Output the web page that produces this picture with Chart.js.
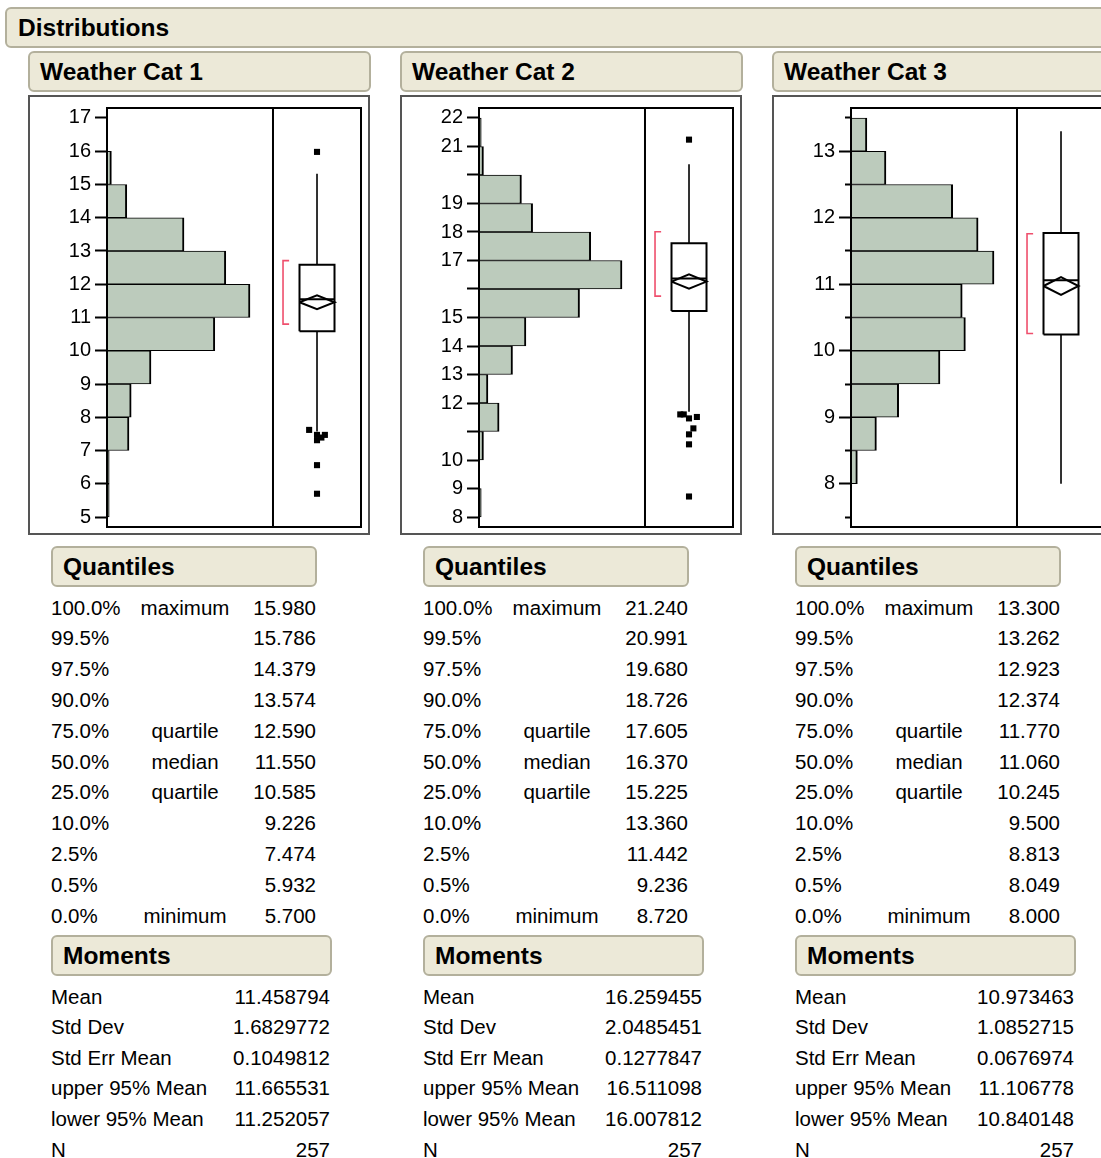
<!DOCTYPE html>
<html><head><meta charset="utf-8">
<script src="https://cdn.jsdelivr.net/npm/chart.js@4.4.1/dist/chart.umd.min.js"></script>
<style>
html,body{margin:0;padding:0}
body{width:1101px;height:1158px;overflow:hidden;background:#fff;position:relative;font-family:"Liberation Sans",Arial,sans-serif;color:#000}
.hdr{position:absolute;box-sizing:border-box;background:#ece9d8;border:2px solid #b3b09c;border-radius:6px;font-weight:bold;font-size:24.5px;display:flex;align-items:center;padding-left:10px;white-space:nowrap}
.frame{position:absolute;box-sizing:border-box;border:2px solid #555}
.cv{position:absolute}
.t{position:absolute;font-size:20.5px;height:31px;line-height:31px;white-space:nowrap}
.r{text-align:right}
.c{text-align:center}
</style>
</head><body>
<script>
// ---------- data ----------
const categories = ["Weather Cat 1", "Weather Cat 2", "Weather Cat 3"];

// histogram bins (lower edges) and counts
const binWidth = [1, 1, 0.5];
const binStart1 = [5, 6, 7, 8, 9, 10, 11, 12, 13, 14, 15];
const binCount1 = [1, 1, 10, 11, 20, 49, 65, 54, 35, 9, 2];
const binStart2 = [8, 9, 10, 11, 12, 13, 14, 15, 16, 17, 18, 19, 20, 21];
const binCount2 = [1, 0, 2, 9, 4, 15, 21, 45, 64, 50, 24, 19, 2, 1];
const binStart3 = [8, 8.5, 9, 9.5, 10, 10.5, 11, 11.5, 12, 12.5, 13];
const binCount3 = [2, 8, 15, 28, 36, 35, 45, 40, 32, 11, 5];

// axis ranges and ticks
const axisRange1 = [4.7, 17.3];
const axisRange2 = [7.65, 22.35];
const axisRange3 = [7.35, 13.65];
const tickVals1 = [5, 6, 7, 8, 9, 10, 11, 12, 13, 14, 15, 16, 17];
const tickLabels1 = ["5","6","7","8","9","10","11","12","13","14","15","16","17"];
const tickVals2 = [8, 9, 10, 11, 12, 13, 14, 15, 16, 17, 18, 19, 20, 21, 22];
const tickLabels2 = ["8","9","10","","12","13","14","15","","17","18","19","","21","22"];
const tickVals3 = [7.5, 8, 8.5, 9, 9.5, 10, 10.5, 11, 11.5, 12, 12.5, 13, 13.5];
const tickLabels3 = ["","8","","9","","10","","11","","12","","13",""];

// box plot extras
const whiskers1 = [7.57, 15.32];
const whiskers2 = [11.69, 20.38];
const whiskers3 = [8.0, 13.3];
const outliers1 = [15.98, 7.62, 7.47, 7.47, 7.39, 7.31, 6.56, 5.70];
const outliers2 = [21.24, 11.60, 11.60, 11.46, 11.51, 11.11, 10.90, 10.55, 8.72];
const outliers3 = [];
const shortestHalf1 = [10.80, 12.71];
const shortestHalf2 = [15.75, 18.01];
const shortestHalf3 = [10.26, 11.76];

// quantiles table
const quantPct = ["100.0%","99.5%","97.5%","90.0%","75.0%","50.0%","25.0%","10.0%","2.5%","0.5%","0.0%"];
const quantLabel = ["maximum","","","","quartile","median","quartile","","","","minimum"];
const quantVals1 = ["15.980","15.786","14.379","13.574","12.590","11.550","10.585","9.226","7.474","5.932","5.700"];
const quantVals2 = ["21.240","20.991","19.680","18.726","17.605","16.370","15.225","13.360","11.442","9.236","8.720"];
const quantVals3 = ["13.300","13.262","12.923","12.374","11.770","11.060","10.245","9.500","8.813","8.049","8.000"];

// moments table
const momentLabel = ["Mean","Std Dev","Std Err Mean","upper 95% Mean","lower 95% Mean","N"];
const momentVals1 = ["11.458794","1.6829772","0.1049812","11.665531","11.252057","257"];
const momentVals2 = ["16.259455","2.0485451","0.1277847","16.511098","16.007812","257"];
const momentVals3 = ["10.973463","1.0852715","0.0676974","11.106778","10.840148","257"];

// ---------- layout / style (not data) ----------
const STEP = 372;
const FONT = "'Liberation Sans', Arial, sans-serif";
const BAR_FILL = "#bccbbc";
const BRACKET = "#ef4f6d";
const DIV_X = 0.6535, CX = 0.8268, HW = 0.0689, BR_X = 0.693, BR_X2 = 0.717;
const jitter1 = [0, -0.45, 0, 0.45, 0.25, 0, 0, 0];
const jitter2 = [0, -0.5, -0.3, 0, 0.45, 0.25, 0, 0, 0];
const jitter3 = [];

Chart.defaults.font.family = FONT;
Chart.defaults.color = "#000";

const panels = [
  {bs: binStart1, bc: binCount1, range: axisRange1, tv: tickVals1, tl: tickLabels1, wh: whiskers1, out: outliers1, jit: jitter1, sh: shortestHalf1, qv: quantVals1, mv: momentVals1},
  {bs: binStart2, bc: binCount2, range: axisRange2, tv: tickVals2, tl: tickLabels2, wh: whiskers2, out: outliers2, jit: jitter2, sh: shortestHalf2, qv: quantVals2, mv: momentVals2},
  {bs: binStart3, bc: binCount3, range: axisRange3, tv: tickVals3, tl: tickLabels3, wh: whiskers3, out: outliers3, jit: jitter3, sh: shortestHalf3, qv: quantVals3, mv: momentVals3}
];

function el(cls, text, left, top, w, h, extra) {
  const d = document.createElement("div");
  d.className = cls;
  if (text !== null) d.textContent = text;
  d.style.left = left + "px"; d.style.top = top + "px";
  if (w != null) d.style.width = w + "px";
  if (h != null) d.style.height = h + "px";
  if (extra) Object.assign(d.style, extra);
  document.body.appendChild(d);
  return d;
}

el("hdr", "Distributions", 5, 7, 1120, 41, {paddingLeft: "11px"});

const framePlugin = {
  id: "frame",
  afterDatasetsDraw(chart) {
    const a = chart.chartArea, ctx = chart.ctx;
    ctx.save();
    ctx.strokeStyle = "#000"; ctx.lineWidth = 2;
    ctx.strokeRect(a.left, a.top, a.right - a.left, a.bottom - a.top);
    ctx.restore();
  }
};

function lineDs(data, color, width) {
  return {type: "line", xAxisID: "x2", yAxisID: "y", data, borderColor: color, borderWidth: width,
    pointRadius: 0, fill: false, tension: 0, spanGaps: false, order: 0};
}

panels.forEach((p, k) => {
  const off = k * STEP;
  el("hdr", categories[k], 28 + off, 51, 343, 41);
  el("frame", null, 28 + off, 95, 342, 440);
  const holder = el("cv", null, 28 + off, 95, 342, 440);
  const cv = document.createElement("canvas");
  holder.appendChild(cv);

  const w = binWidth[k];
  const maxCount = Math.max(...p.bc);
  const q3 = +p.qv[4], med = +p.qv[5], q1 = +p.qv[6];
  const mean = +p.mv[0], up = +p.mv[3], lo = +p.mv[4];
  const [ymin, ymax] = p.range;
  const labelOf = new Map(p.tv.map((v, i) => [v, p.tl[i]]));

  const datasets = [
    {type: "bar", xAxisID: "x", yAxisID: "y",
     data: p.bs.map((b, i) => ({x: p.bc[i], y: b + w / 2})),
     backgroundColor: BAR_FILL, borderColor: "#000",
     borderWidth: {top: 1, bottom: 1, right: 2, left: 0}, borderSkipped: "start",
     barPercentage: 1, categoryPercentage: 1, order: 5},
    lineDs([{x: DIV_X, y: ymin}, {x: DIV_X, y: ymax}], "#000", 2),
    lineDs([{x: CX, y: q3}, {x: CX, y: p.wh[1]}, {x: CX, y: null}, {x: CX, y: q1}, {x: CX, y: p.wh[0]}], "#000", 1.6),
    lineDs([{x: CX - HW, y: q1}, {x: CX + HW, y: q1}, {x: CX + HW, y: q3}, {x: CX - HW, y: q3}, {x: CX - HW, y: q1}], "#000", 2),
    lineDs([{x: CX - HW, y: med}, {x: CX + HW, y: med}], "#000", 2),
    lineDs([{x: CX - HW, y: mean}, {x: CX, y: up}, {x: CX + HW, y: mean}, {x: CX, y: lo}, {x: CX - HW, y: mean}], "#000", 2),
    lineDs([{x: BR_X2, y: p.sh[1]}, {x: BR_X, y: p.sh[1]}, {x: BR_X, y: p.sh[0]}, {x: BR_X2, y: p.sh[0]}], BRACKET, 1.6),
    {type: "line", xAxisID: "x2", yAxisID: "y", showLine: false,
     data: p.out.map((v, i) => ({x: CX + p.jit[i] * HW, y: v})),
     pointStyle: "rect", pointRadius: 4.3, pointBackgroundColor: "#000", pointBorderWidth: 0, order: 0}
  ];

  new Chart(cv, {
    data: {datasets},
    options: {
      indexAxis: "y",
      responsive: true, maintainAspectRatio: false, animation: false, events: [],
      layout: {padding: {left: 0, top: 13, right: 9, bottom: 8}},
      plugins: {legend: {display: false}, tooltip: {enabled: false}},
      scales: {
        x: {type: "linear", display: false, offset: false, min: 0, max: maxCount * 254 / 143},
        x2: {type: "linear", axis: "x", display: false, offset: false, min: 0, max: 1},
        y: {
          type: "linear", position: "left", min: ymin, max: ymax, offset: false,
          afterBuildTicks: s => { s.ticks = p.tv.map(v => ({value: v})); },
          afterFit: s => { s.width = 79; s.paddingTop = 0; s.paddingBottom = 0; },
          ticks: {autoSkip: false, padding: 4, color: "#000", font: {size: 20, family: FONT},
                  callback: v => labelOf.has(v) ? labelOf.get(v) : ""},
          grid: {display: true, offset: false, drawOnChartArea: false, drawTicks: true, tickLength: 12,
                 tickColor: "#000", tickWidth: 2,
                 tickBorderDash: c => (c.tick && labelOf.get(c.tick.value) === "" && k === 2) ? [0, 6, 6] : []},
          border: {display: true, color: "#000", width: 2}
        }
      }
    },
    plugins: [framePlugin]
  });

  // Quantiles
  el("hdr", "Quantiles", 51 + off, 546, 266, 41);
  quantPct.forEach((pct, i) => {
    const top = 607 + 30.8 * i - 15.5;
    el("t", pct, 51 + off, top, null, 31);
    if (quantLabel[i]) el("t c", quantLabel[i], 135 + off, top, 100, 31);
    el("t r", p.qv[i], 216 + off, top, 100, 31);
  });

  // Moments
  el("hdr", "Moments", 51 + off, 935, 281, 41);
  momentLabel.forEach((lab, i) => {
    const top = 996 + 30.65 * i - 15.5;
    el("t", lab, 51 + off, top, null, 31);
    el("t r", p.mv[i], 210 + off, top, 120, 31);
  });
});
</script>
</body></html>
